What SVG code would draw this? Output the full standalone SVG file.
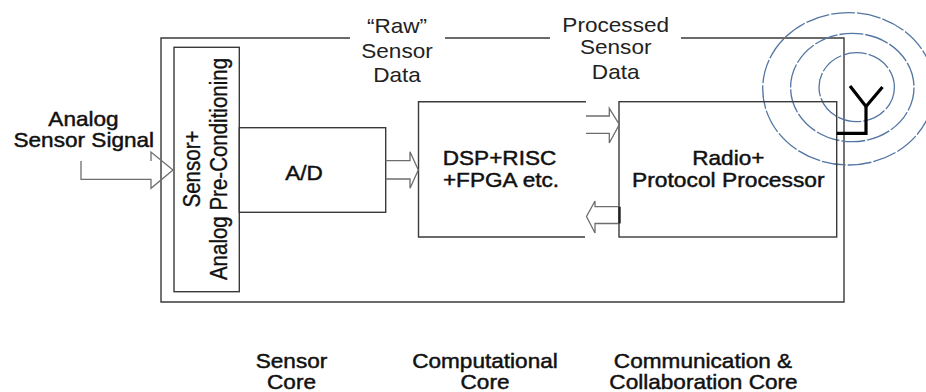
<svg xmlns="http://www.w3.org/2000/svg" width="926" height="392" viewBox="0 0 926 392">
<style>
.box{fill:none;stroke:#3a3a3a;stroke-width:1.4}
.arr{fill:none;stroke:#6e6e6e;stroke-width:1.3;stroke-linejoin:miter}
.t{font-family:"Liberation Sans",Arial,sans-serif;fill:#111;text-anchor:middle;font-size:20px}
.b{stroke:#111;stroke-width:0.45}
.r{fill:#222}
.v{font-size:20.5px;stroke:#111;stroke-width:0.3}
.wave{fill:none;stroke:#5275a2;stroke-width:1.3;stroke-dasharray:24 2}
</style>
<rect width="926" height="392" fill="#fff"/>
<g id="sensor-node">
<path class="box" d="M350,38 H161 V302 H844 V38 H681 M550,38 H445"/>
</g>
<g id="radio-waves">
<ellipse class="wave" cx="856.7" cy="87.2" rx="37.7" ry="34.5"/>
<ellipse class="wave" cx="852.3" cy="87.5" rx="61.7" ry="54.2"/>
<ellipse class="wave" cx="848.5" cy="88.8" rx="85.8" ry="76.2"/>
</g>
<g id="sensor-box">
<rect class="box" x="174" y="47.3" width="65.3" height="244.4"/>
<text class="t v" transform="translate(200,169) rotate(-90) scale(1,1.15)">Sensor+</text>
<text class="t v" transform="translate(226.7,169) rotate(-90) scale(1,1.15)">Analog Pre-Conditioning</text>
</g>
<g id="ad-box">
<rect class="box" x="239.3" y="127.7" width="146.4" height="84.6"/>
<text class="t b" transform="translate(304,180) scale(1.13,1)">A/D</text>
</g>
<g id="dsp-box">
<path class="box" d="M586,101.7 H418.5 V237 H585"/>
<text class="t b" transform="translate(499.5,165) scale(1.13,1)">DSP+RISC</text>
<text class="t b" transform="translate(501,186.7) scale(1.13,1)">+FPGA etc.</text>
</g>
<g id="radio-box">
<rect class="box" x="619" y="101.7" width="217.7" height="135.3"/>
<text class="t b" transform="translate(728.3,165) scale(1.13,1)">Radio+</text>
<text class="t b" transform="translate(728.3,186.7) scale(1.14,1)">Protocol Processor</text>
</g>
<g id="antenna">
<polyline points="850,86 866,106.5 882.5,87" fill="none" stroke="#000" stroke-width="3.2"/>
<polyline points="866,106.5 866,133.3 836.7,133.3" fill="none" stroke="#000" stroke-width="3.2"/>
</g>
<g id="connectors">
<path class="arr" d="M81,161 V179.3 H151 V188.3 L173,170 L151,152 V161"/>
<path class="arr" d="M385.7,160.7 H410 V151.7 L418.3,170 L410,188.3 V179 H385.7"/>
<path class="arr" d="M586,116 H609.3 V108.3 L619.3,124.5 L609.3,143 V133.3 H586"/>
<path class="arr" d="M619,206.7 H595 V201 L586.5,216.5 L595,233 V223.5 H619"/>
<line x1="619.5" y1="206.7" x2="619.5" y2="223.5" stroke="#222" stroke-width="2.4"/>
</g>
<g id="labels">
<text class="t b" transform="translate(83.5,126) scale(1.13,1)">Analog</text>
<text class="t b" transform="translate(83.8,146.7) scale(1.13,1)">Sensor Signal</text>
<text class="t r" transform="translate(397,33) scale(1.13,1)">“Raw”</text>
<text class="t r" transform="translate(397,58) scale(1.13,1)">Sensor</text>
<text class="t r" transform="translate(397,82) scale(1.13,1)">Data</text>
<text class="t r" transform="translate(615.7,31.7) scale(1.13,1)">Processed</text>
<text class="t r" transform="translate(615.7,54) scale(1.13,1)">Sensor</text>
<text class="t r" transform="translate(615.7,79) scale(1.13,1)">Data</text>
<text class="t b" transform="translate(291.5,368) scale(1.13,1)">Sensor</text>
<text class="t b" transform="translate(291.5,388.5) scale(1.13,1)">Core</text>
<text class="t b" transform="translate(485,368) scale(1.13,1)">Computational</text>
<text class="t b" transform="translate(485,388.5) scale(1.13,1)">Core</text>
<text class="t b" transform="translate(703,368) scale(1.13,1)">Communication &amp;</text>
<text class="t b" transform="translate(703.5,388.5) scale(1.13,1)">Collaboration Core</text>
</g>
</svg>
